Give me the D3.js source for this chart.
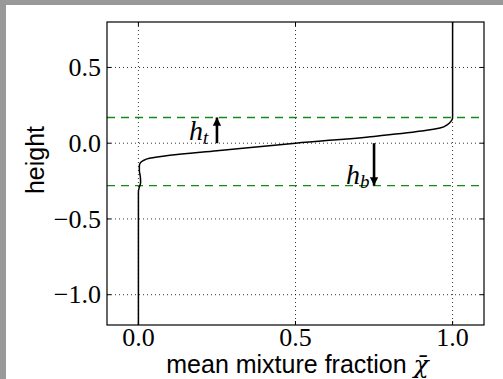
<!DOCTYPE html>
<html>
<head>
<meta charset="utf-8">
<script src="https://cdn.jsdelivr.net/npm/d3@7"></script>
<style>
  html, body { margin: 0; padding: 0; background: #fff; }
  #viz { width: 503px; height: 379px; }
</style>
</head>
<body>
<div id="viz"></div>
<script>
// profile of the mean mixture fraction against height
const chiValues = [0, 0, 0.003, 0.007, 0.006, 0.003, 0.003, 0.006, 0.015, 0.035, 0.1, 0.25, 0.5, 0.75, 0.9, 0.96, 0.985, 0.997, 1.0, 1.0];
const heightValues = [-1.2, -0.32, -0.29, -0.26, -0.22, -0.18, -0.15, -0.13, -0.115, -0.1, -0.08, -0.05, 0.0, 0.045, 0.08, 0.1, 0.125, 0.15, 0.17, 0.8];

const xTicks = [0.0, 0.5, 1.0];
const yTicks = [-1.0, -0.5, 0.0, 0.5];
const topLevel = 0.17;
const bottomLevel = -0.28;
// arrows: [x, from, to]
const arrowTop = [0.25, 0.0, topLevel];
const arrowBottom = [0.75, 0.0, bottomLevel];

const W = 503, H = 379;
const box = {left: 107, right: 484, top: 22, bottom: 325};
const serif = "'Liberation Serif', 'Times New Roman', serif";
const sans = "'Liberation Sans', Arial, sans-serif";

const svg = d3.select("#viz").append("svg")
  .attr("width", W)
  .attr("height", H);

// grey frame on the left and top
svg.append("rect").attr("x", 0).attr("y", 0).attr("width", W).attr("height", 5).attr("fill", "#999");
svg.append("rect").attr("x", 0).attr("y", 0).attr("width", 6).attr("height", H).attr("fill", "#999");

const x = d3.scaleLinear().domain([-0.1, 1.1]).range([box.left, box.right]);
const y = d3.scaleLinear().domain([-1.2, 0.8]).range([box.bottom, box.top]);

const fmt = d => d < 0 ? "\u2212" + Math.abs(d).toFixed(1) : d.toFixed(1);

// grid
svg.append("g")
  .selectAll("line")
  .data(xTicks)
  .join("line")
    .attr("x1", d => x(d)).attr("x2", d => x(d))
    .attr("y1", box.top).attr("y2", box.bottom)
    .attr("stroke", "#000")
    .attr("stroke-width", 0.8)
    .attr("stroke-dasharray", "1,3");

svg.append("g")
  .selectAll("line")
  .data(yTicks)
  .join("line")
    .attr("x1", box.left).attr("x2", box.right)
    .attr("y1", d => y(d)).attr("y2", d => y(d))
    .attr("stroke", "#000")
    .attr("stroke-width", 0.8)
    .attr("stroke-dasharray", "1,3");

// dashed levels
svg.append("g")
  .selectAll("line")
  .data([topLevel, bottomLevel])
  .join("line")
    .attr("x1", box.left).attr("x2", box.right)
    .attr("y1", d => y(d)).attr("y2", d => y(d))
    .attr("stroke", "#168a16")
    .attr("stroke-width", 1.4)
    .attr("stroke-dasharray", "8,6");

// profile
const profile = chiValues.map((c, i) => ({chi: c, h: heightValues[i]}));
const line = d3.line()
  .x(d => x(d.chi))
  .y(d => y(d.h))
  .curve(d3.curveMonotoneY);

svg.append("path")
  .datum(profile)
  .attr("d", line)
  .attr("fill", "none")
  .attr("stroke", "#000")
  .attr("stroke-width", 1.5);

// arrows
const defs = svg.append("defs");
defs.append("marker")
  .attr("id", "head")
  .attr("viewBox", "0 0 10 10")
  .attr("refX", 10).attr("refY", 5)
  .attr("markerWidth", 3.4).attr("markerHeight", 3.2)
  .attr("markerUnits", "strokeWidth")
  .attr("orient", "auto")
  .append("path")
    .attr("d", "M0,0L10,5L0,10z")
    .attr("fill", "#000");

[arrowTop, arrowBottom].forEach(a => {
  svg.append("line")
    .attr("x1", x(a[0])).attr("x2", x(a[0]))
    .attr("y1", y(a[1])).attr("y2", y(a[2]))
    .attr("stroke", "#000")
    .attr("stroke-width", 2.6)
    .attr("marker-end", "url(#head)");
});

// h_t and h_b labels
function hLabel(px, py, sub) {
  const t = svg.append("text")
    .attr("x", px).attr("y", py)
    .style("font-family", serif)
    .style("font-style", "italic")
    .style("font-size", "28px");
  t.append("tspan").text("h");
  t.append("tspan").attr("dy", 4).style("font-size", "19px").text(sub);
}
hLabel(x(arrowTop[0]) - 28, y(0) - 3, "t");
hLabel(x(arrowBottom[0]) - 28, y(bottomLevel) - 2, "b");

// axes frame
svg.append("rect")
  .attr("x", box.left).attr("y", box.top)
  .attr("width", box.right - box.left).attr("height", box.bottom - box.top)
  .attr("fill", "none")
  .attr("stroke", "#000")
  .attr("stroke-width", 1.2);

// inward ticks on all sides
const tickLen = 4;
xTicks.forEach(d => {
  svg.append("line").attr("x1", x(d)).attr("x2", x(d)).attr("y1", box.bottom).attr("y2", box.bottom - tickLen).attr("stroke", "#000");
  svg.append("line").attr("x1", x(d)).attr("x2", x(d)).attr("y1", box.top).attr("y2", box.top + tickLen).attr("stroke", "#000");
});
yTicks.forEach(d => {
  svg.append("line").attr("x1", box.left).attr("x2", box.left + tickLen).attr("y1", y(d)).attr("y2", y(d)).attr("stroke", "#000");
  svg.append("line").attr("x1", box.right).attr("x2", box.right - tickLen).attr("y1", y(d)).attr("y2", y(d)).attr("stroke", "#000");
});

// tick labels
svg.append("g")
  .selectAll("text")
  .data(xTicks)
  .join("text")
    .attr("x", d => x(d))
    .attr("y", box.bottom + 21)
    .attr("text-anchor", "middle")
    .style("font-family", serif)
    .style("font-size", "26px")
    .text(fmt);

svg.append("g")
  .selectAll("text")
  .data(yTicks)
  .join("text")
    .attr("x", box.left - 6)
    .attr("y", d => y(d))
    .attr("dy", "0.33em")
    .attr("text-anchor", "end")
    .style("font-family", serif)
    .style("font-size", "26px")
    .text(fmt);

// axis titles
const xTitle = svg.append("text")
  .attr("x", (box.left + box.right) / 2 + 2)
  .attr("y", 373)
  .attr("text-anchor", "middle")
  .style("font-family", sans)
  .style("font-size", "25px");
xTitle.append("tspan").text("mean mixture fraction ");
xTitle.append("tspan")
  .style("font-family", "'DejaVu Serif', serif")
  .style("font-style", "italic")
  .text("\u03C7\u0304");

svg.append("text")
  .attr("transform", `translate(44,160) rotate(-90)`)
  .attr("text-anchor", "middle")
  .style("font-family", sans)
  .style("font-size", "25px")
  .text("height");
</script>
</body>
</html>
